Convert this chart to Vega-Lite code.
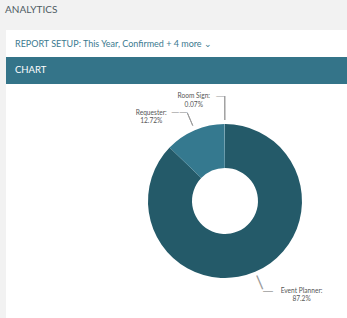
{
  "$schema": "https://vega.github.io/schema/vega-lite/v6.json",
  "background": "#f2f2f2",
  "padding": {"left": 5, "top": 4, "right": 0, "bottom": 0},
  "datasets": {
    "share": [
      {"category": "Event Planner", "percent": 87.2, "label": "Event Planner:\n87.2%"},
      {"category": "Requester", "percent": 12.72, "label": "Requester:\n12.72%"},
      {"category": "Room Sign", "percent": 0.07, "label": "Room Sign:\n0.07%"}
    ]
  },
  "title": {"text": "ANALYTICS", "anchor": "start", "frame": "group", "dx": -1, "offset": 7.3, "baseline": "alphabetic", "font": "Lato", "fontSize": 10, "fontWeight": "normal", "color": "#4e5b62"},
  "config": {"view": {"stroke": null}, "concat": {"spacing": 0}},
  "spacing": 0,
  "vconcat": [
    {
      "width": 342, "height": 27,
      "view": {"fill": "#ffffff", "stroke": null},
      "title": {"text": "REPORT SETUP: This Year, Confirmed + 4 more  ⌄", "anchor": "start", "frame": "group", "dx": 9, "offset": -25.7, "baseline": "alphabetic", "font": "Lato", "fontSize": 9, "fontWeight": "normal", "color": "#3b7a8f"},
      "data": {"values": []},
      "mark": "text"
    },
    {
      "width": 342, "height": 27,
      "view": {"fill": "#347489", "stroke": null},
      "title": {"text": "CHART", "anchor": "start", "frame": "group", "dx": 9, "offset": -25.8, "baseline": "alphabetic", "font": "Lato", "fontSize": 9.5, "fontWeight": "normal", "color": "#ffffff"},
      "data": {"values": []},
      "mark": "text"
    },
    {
      "spacing": 0,
      "hconcat": [
        {
          "width": 96, "height": 234,
          "view": {"fill": "#ffffff", "stroke": null},
          "data": {"values": []},
          "mark": "text"
        },
        {
          "width": 246, "height": 234,
          "view": {"fill": "#ffffff", "stroke": null},
          "data": {"name": "share"},
          "encoding": {
            "theta": {"field": "percent", "type": "quantitative", "stack": true},
            "detail": {"field": "category", "type": "nominal"}
          },
          "layer": [
            {
              "mark": {"type": "arc", "innerRadius": 33, "outerRadius": 77},
              "encoding": {
                "color": {"field": "category", "type": "nominal", "legend": null,
                  "scale": {"domain": ["Event Planner", "Requester", "Room Sign"], "range": ["#245a69", "#35798f", "#8fb3bf"]}}
              }
            },
            {
              "mark": {"type": "arc", "innerRadius": 82, "outerRadius": 96, "padAngle": 3.1416, "filled": false, "color": "#9b9b9b", "strokeWidth": 1},
              "encoding": {"strokeOpacity": {"condition": {"test": "datum.category === 'Requester'", "value": 1}, "value": 0}}
            },
            {
              "mark": {"type": "arc", "innerRadius": 81, "outerRadius": 105, "padAngle": 3.1416, "filled": false, "color": "#9b9b9b", "strokeWidth": 1},
              "encoding": {"strokeOpacity": {"condition": {"test": "datum.category === 'Room Sign'", "value": 1}, "value": 0}}
            },
            {
              "mark": {"type": "text", "radius": 89.5, "angle": 157, "align": "center", "baseline": "middle", "font": "DejaVu Sans", "fontSize": 15, "color": "#9b9b9b"},
              "encoding": {"text": {"condition": {"test": "datum.category === 'Event Planner'", "value": "|"}, "value": ""}}
            },
            {
              "mark": {"type": "text", "radius": 105, "dx": -31, "dy": 0, "align": "center", "baseline": "middle", "lineBreak": "\n", "lineHeight": 8.5, "font": "Lato", "fontSize": 6.6, "color": "#555555"},
              "encoding": {"text": {"condition": {"test": "datum.category === 'Room Sign'", "field": "label"}, "value": ""}}
            },
            {
              "mark": {"type": "text", "radius": 96, "dx": -36, "dy": 0, "align": "center", "baseline": "middle", "lineBreak": "\n", "lineHeight": 8.5, "font": "Lato", "fontSize": 6.6, "color": "#555555"},
              "encoding": {"text": {"condition": {"test": "datum.category === 'Requester'", "field": "label"}, "value": ""}}
            },
            {
              "mark": {"type": "text", "radius": 96, "dx": 39, "dy": 1.5, "align": "center", "baseline": "middle", "lineBreak": "\n", "lineHeight": 8.5, "font": "Lato", "fontSize": 6.6, "color": "#555555"},
              "encoding": {"text": {"condition": {"test": "datum.category === 'Event Planner'", "field": "label"}, "value": ""}}
            },
            {
              "mark": {"type": "text", "radius": 105, "align": "right", "baseline": "middle", "font": "DejaVu Sans", "fontSize": 9, "color": "#9b9b9b"},
              "encoding": {"text": {"condition": {"test": "datum.category === 'Room Sign'", "value": "—"}, "value": ""}}
            },
            {
              "mark": {"type": "text", "radius": 96, "align": "right", "baseline": "middle", "font": "DejaVu Sans", "fontSize": 8, "color": "#9b9b9b"},
              "encoding": {"text": {"condition": {"test": "datum.category === 'Requester'", "value": "——"}, "value": ""}}
            },
            {
              "mark": {"type": "text", "radius": 96, "align": "left", "baseline": "middle", "dy": 1.3, "font": "DejaVu Sans", "fontSize": 11, "color": "#9b9b9b"},
              "encoding": {"text": {"condition": {"test": "datum.category === 'Event Planner'", "value": "—"}, "value": ""}}
            }
          ]
        }
      ]
    }
  ]
}
